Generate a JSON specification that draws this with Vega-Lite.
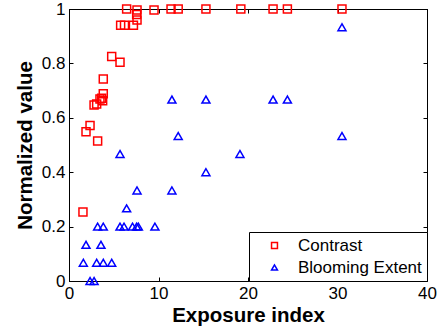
{
  "$schema": "https://vega.github.io/schema/vega-lite/v6.json",
  "autosize": "none",
  "width": 358,
  "height": 272,
  "padding": {"left": 69, "top": 9, "right": 17, "bottom": 52},
  "background": "white",
  "config": {
    "view": {"stroke": "black", "strokeWidth": 1},
    "font": "Liberation Sans",
    "axis": {
      "grid": false,
      "domainColor": "black",
      "tickColor": "black",
      "labelColor": "black",
      "titleColor": "black",
      "labelFont": "Liberation Sans",
      "titleFont": "Liberation Sans",
      "labelFontSize": 17,
      "titleFontSize": 20.5,
      "titleFontWeight": "bold",
      "tickSize": -4,
      "labelPadding": 8,
      "labelFlush": false
    }
  },
  "data": {
    "values": [
      {"x": 1.56, "v": 0.254, "series": "Contrast"},
      {"x": 1.9, "v": 0.549, "series": "Contrast"},
      {"x": 2.35, "v": 0.572, "series": "Contrast"},
      {"x": 2.8, "v": 0.647, "series": "Contrast"},
      {"x": 3.09, "v": 0.651, "series": "Contrast"},
      {"x": 3.2, "v": 0.515, "series": "Contrast"},
      {"x": 3.46, "v": 0.669, "series": "Contrast"},
      {"x": 3.65, "v": 0.672, "series": "Contrast"},
      {"x": 3.76, "v": 0.663, "series": "Contrast"},
      {"x": 3.83, "v": 0.688, "series": "Contrast"},
      {"x": 3.83, "v": 0.743, "series": "Contrast"},
      {"x": 4.77, "v": 0.825, "series": "Contrast"},
      {"x": 5.7, "v": 0.804, "series": "Contrast"},
      {"x": 5.77, "v": 0.94, "series": "Contrast"},
      {"x": 6.2, "v": 0.94, "series": "Contrast"},
      {"x": 6.44, "v": 1.0, "series": "Contrast"},
      {"x": 7.2, "v": 0.94, "series": "Contrast"},
      {"x": 7.56, "v": 0.98, "series": "Contrast"},
      {"x": 7.6, "v": 0.996, "series": "Contrast"},
      {"x": 7.6, "v": 0.96, "series": "Contrast"},
      {"x": 9.5, "v": 0.996, "series": "Contrast"},
      {"x": 11.4, "v": 1.0, "series": "Contrast"},
      {"x": 12.2, "v": 1.0, "series": "Contrast"},
      {"x": 15.3, "v": 1.0, "series": "Contrast"},
      {"x": 19.2, "v": 1.0, "series": "Contrast"},
      {"x": 22.8, "v": 1.0, "series": "Contrast"},
      {"x": 24.4, "v": 1.0, "series": "Contrast"},
      {"x": 30.5, "v": 1.0, "series": "Contrast"},
      {"x": 30.5, "v": 0.933, "series": "Blooming Extent"},
      {"x": 11.5, "v": 0.667, "series": "Blooming Extent"},
      {"x": 15.3, "v": 0.667, "series": "Blooming Extent"},
      {"x": 22.8, "v": 0.667, "series": "Blooming Extent"},
      {"x": 24.4, "v": 0.667, "series": "Blooming Extent"},
      {"x": 12.2, "v": 0.533, "series": "Blooming Extent"},
      {"x": 30.5, "v": 0.533, "series": "Blooming Extent"},
      {"x": 11.5, "v": 0.333, "series": "Blooming Extent"},
      {"x": 15.3, "v": 0.4, "series": "Blooming Extent"},
      {"x": 19.1, "v": 0.467, "series": "Blooming Extent"},
      {"x": 5.7, "v": 0.467, "series": "Blooming Extent"},
      {"x": 7.6, "v": 0.333, "series": "Blooming Extent"},
      {"x": 6.44, "v": 0.267, "series": "Blooming Extent"},
      {"x": 3.2, "v": 0.2, "series": "Blooming Extent"},
      {"x": 3.83, "v": 0.2, "series": "Blooming Extent"},
      {"x": 5.7, "v": 0.2, "series": "Blooming Extent"},
      {"x": 6.15, "v": 0.2, "series": "Blooming Extent"},
      {"x": 7.1, "v": 0.2, "series": "Blooming Extent"},
      {"x": 7.56, "v": 0.2, "series": "Blooming Extent"},
      {"x": 7.75, "v": 0.2, "series": "Blooming Extent"},
      {"x": 9.6, "v": 0.2, "series": "Blooming Extent"},
      {"x": 1.9, "v": 0.133, "series": "Blooming Extent"},
      {"x": 3.57, "v": 0.133, "series": "Blooming Extent"},
      {"x": 1.6, "v": 0.067, "series": "Blooming Extent"},
      {"x": 3.09, "v": 0.067, "series": "Blooming Extent"},
      {"x": 3.83, "v": 0.067, "series": "Blooming Extent"},
      {"x": 4.77, "v": 0.067, "series": "Blooming Extent"},
      {"x": 2.35, "v": 0.0, "series": "Blooming Extent"},
      {"x": 2.8, "v": 0.0, "series": "Blooming Extent"}
    ]
  },
  "layer": [
    {
      "mark": {"type": "point", "filled": false, "strokeWidth": 1.5, "size": 64, "opacity": 1},
      "encoding": {
        "x": {"field": "x", "type": "quantitative", "scale": {"domain": [0, 40], "nice": false, "zero": false}, "axis": {"orient": "bottom", "title": "Exposure index", "values": [0, 10, 20, 30, 40], "titlePadding": 4}},
        "y": {"field": "v", "type": "quantitative", "scale": {"domain": [0, 1], "nice": false}, "axis": {"orient": "left", "title": "Normalized value", "values": [0, 0.2, 0.4, 0.6, 0.8, 1], "format": "~g", "titlePadding": 6}},
        "color": {"field": "series", "type": "nominal", "scale": {"domain": ["Contrast", "Blooming Extent"], "range": ["#ff0000", "#0000ff"]},
          "legend": {"title": null, "orient": "bottom-right", "offset": 0, "strokeColor": "black", "fillColor": "white", "padding": 5, "symbolOffset": 12, "labelOffset": 15, "labelFontSize": 17, "labelFont": "Liberation Sans", "labelColor": "black", "symbolSize": 35, "symbolStrokeWidth": 1.5, "rowPadding": 4, "cornerRadius": 0}},
        "shape": {"field": "series", "type": "nominal", "scale": {"domain": ["Contrast", "Blooming Extent"], "range": ["square", "triangle-up"]}}
      }
    },
    {
      "mark": {"type": "point", "opacity": 0},
      "encoding": {
        "x": {"field": "x", "type": "quantitative", "axis": {"orient": "top", "title": null, "labels": false, "values": [0, 10, 20, 30, 40]}},
        "y": {"field": "v", "type": "quantitative", "axis": {"orient": "right", "title": null, "labels": false, "values": [0, 0.2, 0.4, 0.6, 0.8, 1]}}
      }
    }
  ],
  "resolve": {"axis": {"x": "independent", "y": "independent"}}
}
